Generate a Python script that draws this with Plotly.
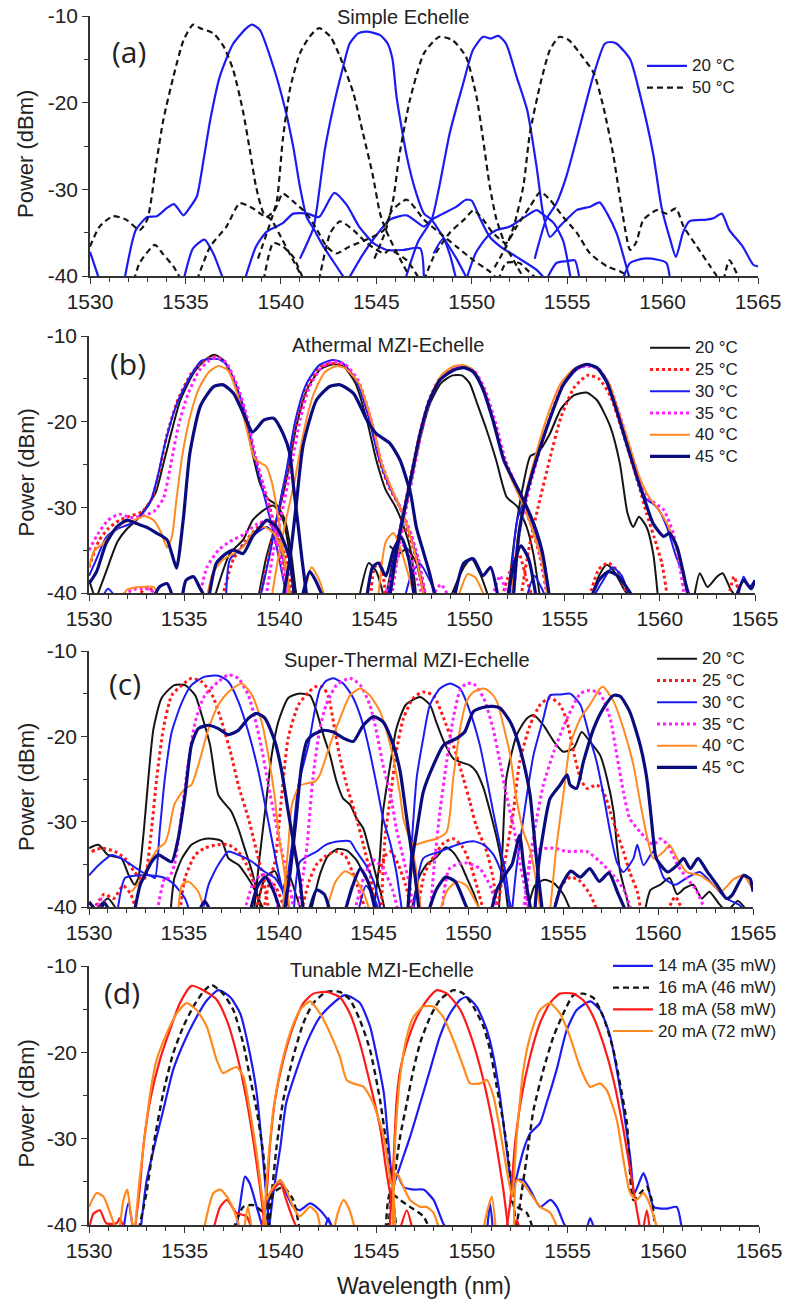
import plotly.graph_objects as go

# ---------------- DATA (wavelength nm, power dBm); each list = segments ----------------
x_ticks = [1530, 1535, 1540, 1545, 1550, 1555, 1560, 1565]
y_ticks = [-10, -20, -30, -40]
y_ticktext = ["-10", "-20", "-30", "-40"]
panel_titles = ["Simple Echelle", "Athermal MZI-Echelle", "Super-Thermal MZI-Echelle", "Tunable MZI-Echelle"]
panel_labels = ["(a)", "(b)", "(c)", "(d)"]
temps_a = ["20 °C", "50 °C"]
temps_bc = ["20 °C", "25 °C", "30 °C", "35 °C", "40 °C", "45 °C"]
currents_d = ["14 mA (35 mW)", "16 mA (46 mW)", "18 mA (58 mW)", "20 mA (72 mW)"]

# ---- panel (a) ----
a_20C = [
    [(1530, -37.2), (1530.5, -40.5)],
    [(1531.8, -40.5), (1532.4, -34.7), (1533.0, -33.2), (1533.5, -33.1), (1534.0, -32.2), (1534.4, -31.7), (1534.9, -33), (1535.2, -32.2), (1535.6, -30.8), (1535.95, -26.6), (1536.3, -22), (1536.8, -17), (1537.5, -13.2), (1538.2, -11.4), (1538.5, -11), (1538.9, -11.6), (1539.6, -15.8), (1540.2, -20.5), (1540.65, -25.1), (1541.0, -29.7), (1541.35, -33.2), (1541.7, -34.5), (1542.2, -36.5), (1542.8, -38.5), (1543.4, -40.5)],
    [(1534.9, -40.5), (1535.4, -36.8), (1536.0, -35.8), (1536.46, -37.4), (1537, -40.5)],
    [(1538.1, -40.5), (1538.7, -36.6), (1539.25, -34.9), (1540.1, -33.9), (1540.65, -32.8), (1541.4, -32.8), (1542.0, -33.2), (1542.8, -30.4), (1543.45, -31.8), (1544.1, -34.3), (1544.85, -36.2), (1545.55, -37), (1546.4, -37), (1547.3, -36.8), (1547.5, -40.5)],
    [(1541.0, -38), (1541.7, -34.5), (1541.9, -32), (1542.3, -25.5), (1542.75, -20.5), (1543.27, -15.8), (1543.6, -13.2), (1544.05, -12), (1544.5, -11.8), (1545.2, -12.2), (1545.6, -13.2), (1545.85, -15), (1546.06, -19.3), (1546.6, -26.2), (1547.1, -30.5), (1547.5, -32.8), (1547.9, -33.5), (1548.5, -35.5), (1549.2, -38), (1549.8, -40.5)],
    [(1546.5, -40.5), (1547.2, -36), (1547.9, -33.5), (1548.3, -29.7), (1548.85, -23.5), (1549.55, -17.8), (1550.07, -13.9), (1550.6, -12.4), (1551.0, -12.6), (1551.4, -12.3), (1551.8, -13.2), (1552.35, -17), (1552.9, -20.8), (1553.4, -27.4), (1553.74, -32.8), (1554.1, -35.5), (1554.6, -34.3), (1555.1, -33.2), (1555.5, -32.4), (1556.2, -32), (1556.7, -31.5), (1557.1, -32.8), (1557.6, -35.1), (1558.1, -38.9), (1558.3, -40.5)],
    [(1553.3, -38), (1553.9, -33.5), (1554.44, -31.6), (1554.96, -28.5), (1555.66, -22.8), (1556.36, -17), (1556.97, -13.2), (1557.3, -13), (1557.6, -13.2), (1558.3, -15), (1558.8, -18.9), (1559.5, -25.8), (1559.94, -32), (1560.4, -35.8), (1560.7, -37.8), (1561.07, -35), (1561.4, -33.7), (1562.3, -33.5), (1562.7, -33.3), (1563.1, -32.8), (1563.5, -34.7), (1564.2, -36.6), (1564.75, -38.7), (1565, -38.9)],
    [(1543.5, -40.5), (1544.3, -37.5), (1545.0, -35.3), (1545.71, -33.5), (1546.6, -33), (1547.5, -34.3), (1547.9, -33.5), (1548.5, -32.8), (1549.2, -32), (1549.7, -31.2), (1550.0, -31.3), (1550.4, -33.2), (1550.95, -35.5), (1551.5, -36.6), (1552.35, -37.8), (1553.4, -39.3), (1553.9, -40.5)],
    [(1549.7, -40.5), (1550.2, -37.4), (1550.8, -35.5), (1551.3, -34.7), (1552, -34.3), (1552.7, -33.3), (1553.4, -32.4), (1553.8, -33), (1554.3, -33.9), (1554.8, -36), (1555.2, -40.5)],
    [(1553.9, -40.5), (1554.44, -38.5), (1554.96, -38.3), (1555.4, -38.2), (1555.66, -40.5)],
    [(1557.9, -40.5), (1558.3, -38.5), (1559, -38), (1559.7, -38.1), (1560.2, -38.5), (1560.4, -40.5)],
    [(1548, -37.4), (1548.5, -35.7), (1548.85, -37.5), (1549.2, -40.5)],
]
a_50C = [
    [(1530, -36.6), (1530.5, -34.3), (1531.2, -33.1), (1531.9, -33.5), (1532.6, -34.7), (1533, -33.5), (1533.5, -26.6), (1533.84, -22), (1534.37, -17), (1534.9, -12.8), (1535.4, -11), (1535.76, -11.4), (1536.46, -12), (1537, -13.5), (1537.5, -16.2), (1538, -20.8), (1538.4, -25.8), (1538.7, -29.7), (1539.1, -32.8), (1539.5, -33.5), (1540.0, -35.5), (1540.6, -38), (1541.2, -40.5)],
    [(1538.8, -38), (1539.5, -33.5), (1539.8, -31.2), (1540.1, -24.3), (1540.5, -18.2), (1541, -14.3), (1541.5, -12.4), (1542, -11.4), (1542.6, -12.4), (1543.1, -14.7), (1543.8, -18.9), (1544.3, -23.5), (1544.8, -28.2), (1545.2, -32.8), (1545.5, -34.7), (1546.0, -37), (1546.6, -39.5)],
    [(1544.9, -38), (1545.5, -34.7), (1545.9, -31), (1546.2, -26.2), (1546.76, -19.7), (1547.5, -14.3), (1548.3, -12.4), (1549, -12.8), (1549.7, -14.7), (1550.25, -19.3), (1550.6, -24.3), (1550.95, -29.7), (1551.3, -33.5), (1551.8, -36.6), (1552.4, -39), (1552.8, -40.5)],
    [(1551.2, -39), (1551.8, -36.6), (1552.2, -34.3), (1552.7, -29.7), (1553.05, -23.5), (1553.6, -17.8), (1554.1, -13.9), (1554.6, -12.4), (1555.1, -12.8), (1555.8, -14.7), (1556.4, -16.6), (1556.9, -20.5), (1557.4, -25.8), (1557.9, -32.8), (1558.3, -37), (1558.6, -36.2), (1559, -33.5), (1559.7, -32.4), (1560.2, -32.8), (1560.7, -32.2), (1561.1, -34.3), (1561.8, -36.6), (1562.5, -38.9), (1563, -40.5)],
    [(1563.2, -40.5), (1563.5, -38.2), (1564.05, -40.5)],
    [(1532.3, -40.5), (1532.6, -38.5), (1533.4, -36.4), (1533.8, -37.4), (1534.37, -38.9), (1534.8, -40.5)],
    [(1535.6, -40.5), (1536.3, -36.6), (1537.15, -34.3), (1537.85, -31.6), (1538.55, -32.2), (1539.25, -33.2), (1539.7, -32.3), (1540.1, -30.5), (1540.65, -31.4), (1541.35, -32.8), (1541.9, -34.7), (1542.4, -36.6), (1542.9, -37.4), (1543.6, -36.6), (1544.5, -35.8), (1545.4, -34.7), (1545.8, -32.5), (1546.6, -31.2), (1547.5, -33.5), (1548.3, -35), (1549.2, -36.6), (1550.1, -38.2), (1550.95, -39.5), (1551.4, -40.5)],
    [(1539.1, -40.5), (1539.6, -36.2), (1540.1, -36.6), (1540.65, -37.8), (1541.2, -40.5)],
    [(1542.0, -40.5), (1542.6, -35), (1543.1, -33.7), (1543.8, -34.7), (1544.5, -36.2), (1545.4, -37.4), (1545.7, -37), (1546.6, -38.2), (1547.3, -40.5)],
    [(1547.5, -40.5), (1548, -37.8), (1548.85, -35), (1549.6, -33.5), (1550.1, -32.4), (1550.6, -33.5), (1551.1, -35), (1551.8, -36.2), (1552.35, -34.3), (1553.05, -32), (1553.6, -30.3), (1554.1, -31.2), (1554.8, -33.2), (1555.5, -35), (1556.2, -37.4), (1557.1, -38.9), (1557.8, -39.5), (1558.6, -40.5)],
    [(1551.4, -40.5), (1551.8, -38.5), (1552.5, -38.5), (1553.0, -39.5), (1553.5, -40.5)],
]

# ---- panel (b) ----
b_20C = [
    [(1530.4, -40.5), (1530.9, -37.5), (1531.5, -34), (1532.0, -32.5), (1532.5, -31.5), (1533.0, -30), (1533.5, -28.3), (1533.9, -25), (1534.3, -21.5), (1534.8, -17.5), (1535.5, -14.3), (1536.1, -12.8), (1536.6, -12.2), (1537.1, -12.9), (1537.7, -15.6), (1538.2, -19.5), (1538.6, -23.8), (1539.0, -27.3), (1539.4, -29), (1539.9, -29.8), (1540.3, -31.5), (1540.6, -35), (1540.9, -40.5)],
    [(1538.9, -40.5), (1539.3, -36), (1539.8, -32), (1540.4, -26.5), (1540.9, -20.5), (1541.45, -16.3), (1542.15, -13.9), (1542.85, -13.3), (1543.4, -13.6), (1544.0, -15.5), (1544.6, -19.8), (1545.1, -24.5), (1545.6, -28), (1546.1, -29.9), (1546.5, -32), (1546.9, -35), (1547.2, -40.5)],
    [(1545.6, -40.5), (1546.0, -36), (1546.4, -32.5), (1546.9, -27.3), (1547.4, -22), (1547.9, -18), (1548.5, -15.5), (1549.1, -14.6), (1549.6, -14.6), (1550.0, -15.5), (1550.4, -17.9), (1550.9, -21), (1551.4, -24.5), (1551.95, -28.8), (1552.5, -29.9), (1553.0, -32.3), (1553.35, -35.4), (1553.7, -40.5)],
    [(1552.0, -40.5), (1552.4, -33), (1552.8, -27.6), (1553.2, -24), (1553.6, -23.6), (1554.2, -21.5), (1554.8, -18.5), (1555.5, -16.9), (1556.15, -16.6), (1556.7, -17.5), (1557.4, -20.6), (1557.9, -24.9), (1558.3, -30.7), (1558.6, -32.3), (1558.9, -31.1), (1559.3, -32.3), (1559.65, -35.4), (1559.9, -40.5)],
    [(1530, -38.5), (1530.3, -40.5)],
    [(1536.6, -40.5), (1537.4, -35.4), (1538.1, -33.8), (1538.6, -31.5), (1539.2, -30.3), (1539.7, -29.8), (1540.2, -31.5), (1540.55, -35.4), (1540.9, -40.5)],
    [(1544.2, -40.5), (1544.7, -36.5), (1545.1, -37.5), (1545.5, -40.5)],
    [(1545.8, -34.5), (1546.3, -35.4), (1546.7, -34.8), (1547.2, -36.5), (1547.6, -40.5)],
    [(1549.0, -40.5), (1549.7, -37), (1550.1, -36), (1550.6, -38), (1551.0, -40.5)],
    [(1556.4, -40.5), (1556.8, -38), (1557.2, -36.7), (1557.6, -37.5), (1558.1, -39.5), (1558.4, -40.5)],
    [(1561.8, -40.5), (1562.1, -37.7), (1562.5, -39.3), (1563, -38.1), (1563.3, -37.7), (1563.7, -39.5), (1564, -40.5)],
]
b_25C = [
    [(1530, -37), (1530.5, -34), (1531.0, -32.5), (1531.6, -31.5), (1532.2, -31), (1532.8, -30.5), (1533.3, -29), (1533.7, -25.8), (1534.1, -21.5), (1534.7, -17.3), (1535.4, -14.3), (1536.1, -12.8), (1536.6, -12.4), (1537.1, -12.9), (1537.7, -15.6), (1538.3, -19.8), (1538.7, -23.8), (1539.1, -27), (1539.5, -30), (1539.9, -33.5), (1540.2, -37), (1540.5, -40.5)],
    [(1539.0, -40.5), (1539.5, -35), (1539.9, -31), (1540.4, -25.8), (1540.9, -19.8), (1541.45, -15.9), (1542.15, -13.6), (1542.85, -13.2), (1543.4, -13.5), (1544.1, -15.3), (1544.8, -20), (1545.3, -24.8), (1545.8, -27.8), (1546.35, -30), (1546.9, -33.2), (1547.3, -36), (1547.7, -40.5)],
    [(1545.8, -40.5), (1546.1, -36), (1546.4, -32), (1546.9, -26.5), (1547.4, -21.2), (1547.9, -17.3), (1548.45, -14.9), (1549.15, -13.8), (1549.7, -13.6), (1550.2, -14.1), (1550.7, -16), (1551.25, -19.8), (1551.8, -24.2), (1552.3, -27), (1552.8, -29.5), (1553.3, -32.5), (1553.7, -35.8), (1554.1, -40.5)],
    [(1552.7, -40.5), (1553.1, -35), (1553.6, -30), (1554.2, -24.5), (1554.8, -19.5), (1555.5, -16), (1556.2, -14.6), (1556.8, -15), (1557.4, -17), (1557.9, -20.2), (1558.4, -23.8), (1558.9, -27.5), (1559.3, -30.7), (1559.7, -33.5), (1560.1, -36.5), (1560.4, -40.5)],
    [(1532.5, -40.5), (1533.1, -39.3), (1533.6, -40.5)],
    [(1537.0, -40.5), (1537.6, -36), (1538.2, -34), (1538.8, -32.5), (1539.3, -31.5), (1539.8, -32.8), (1540.3, -35.5), (1540.7, -40.5)],
    [(1544.8, -40.5), (1545.0, -37), (1545.3, -36.5), (1545.6, -40.5)],
    [(1546.2, -33.5), (1546.6, -32.5), (1547.0, -34.5), (1547.4, -38), (1547.7, -40.5)],
    [(1551.7, -40.5), (1552.2, -37), (1552.6, -35.5), (1553.0, -38.5), (1553.3, -40.5)],
    [(1556.3, -40.5), (1556.8, -37.2), (1557.3, -36.5), (1557.8, -37.5), (1558.3, -40.5)],
    [(1563.6, -40.5), (1563.9, -38.1), (1564.2, -40.5)],
]
b_30C = [
    [(1530, -38), (1530.4, -36), (1530.9, -33.5), (1531.5, -32.5), (1532.1, -32), (1532.7, -31), (1533.2, -29.5), (1533.6, -26.5), (1534.0, -22.5), (1534.6, -18), (1535.3, -14.8), (1535.9, -12.9), (1536.3, -12.7), (1536.8, -12.7), (1537.2, -13.3), (1537.75, -15.9), (1538.3, -19.8), (1538.65, -23.7), (1539.0, -26.8), (1539.35, -29.9), (1539.7, -33), (1540.0, -36.1), (1540.4, -40.5)],
    [(1539.0, -40.5), (1539.5, -35.5), (1539.85, -31.5), (1540.35, -26), (1540.85, -19.8), (1541.4, -15.7), (1542.1, -13.4), (1542.8, -12.8), (1543.3, -13.1), (1544.0, -15), (1544.7, -19.5), (1545.2, -24), (1545.75, -27.4), (1546.3, -29.8), (1546.8, -32.8), (1547.2, -35.6), (1547.6, -40.5)],
    [(1545.7, -40.5), (1546.0, -36.5), (1546.35, -32.3), (1546.9, -26.8), (1547.4, -21.4), (1547.9, -17.5), (1548.45, -15), (1549.15, -13.9), (1549.7, -13.5), (1550.2, -14), (1550.7, -15.9), (1551.25, -19.8), (1551.8, -24.5), (1552.3, -26.8), (1552.8, -29.1), (1553.35, -32.3), (1553.9, -36.1), (1554.2, -40.5)],
    [(1552.1, -40.5), (1552.5, -31.5), (1553.0, -28.4), (1553.5, -24.5), (1554.2, -19.8), (1554.9, -15.9), (1555.6, -14), (1556.15, -13.4), (1556.7, -13.8), (1557.2, -15.5), (1557.7, -18.6), (1558.3, -22.9), (1558.8, -26.4), (1559.3, -29.1), (1559.6, -29.5), (1560.0, -30.5), (1560.4, -32.5), (1560.8, -35.4), (1561.2, -37.7), (1561.6, -40.5)],
    [(1530.7, -40.5), (1531.0, -39.5), (1531.4, -40.5)],
    [(1537.2, -40.5), (1537.4, -36.1), (1538.1, -34.5), (1538.8, -33), (1539.35, -32.3), (1539.85, -33.5), (1540.3, -37), (1540.6, -40.5)],
    [(1546.6, -40.5), (1547.0, -37.5), (1547.4, -36.6), (1547.9, -38.5), (1548.3, -40.5)],
    [(1553.0, -40.5), (1553.4, -38), (1553.8, -39.5), (1554.0, -40.5)],
    [(1556.5, -40.5), (1557.0, -38.6), (1557.5, -37), (1558.0, -38), (1558.4, -40.5)],
    [(1564.1, -40.5), (1564.4, -38.1), (1564.7, -39.3), (1565, -38.5)],
]
b_35C = [
    [(1530, -35), (1530.5, -33), (1531.0, -31.5), (1531.6, -30.8), (1532.2, -31.2), (1532.8, -31), (1533.4, -30.5), (1533.9, -29), (1534.3, -25), (1534.7, -20.5), (1535.2, -16.8), (1535.8, -14), (1536.3, -12.9), (1536.7, -12.5), (1537.2, -13.1), (1537.8, -15.8), (1538.35, -19.8), (1538.7, -23.7), (1539.1, -27), (1539.45, -30), (1539.8, -33.2), (1540.1, -36.5), (1540.4, -40.5)],
    [(1539.3, -40.5), (1539.7, -35), (1540.1, -31), (1540.6, -25.5), (1541.1, -19.7), (1541.6, -15.9), (1542.25, -13.6), (1542.9, -13.0), (1543.45, -13.3), (1544.15, -15.2), (1544.85, -20), (1545.35, -24.6), (1545.85, -27.7), (1546.4, -30.2), (1546.95, -33.3), (1547.3, -36), (1547.7, -40.5)],
    [(1545.9, -40.5), (1546.2, -36), (1546.5, -32), (1547.0, -26.5), (1547.5, -21), (1548.0, -17), (1548.55, -14.8), (1549.25, -13.8), (1549.8, -13.6), (1550.3, -14.2), (1550.8, -16.2), (1551.35, -20), (1551.9, -24.6), (1552.4, -27.2), (1552.9, -29.8), (1553.4, -33), (1553.8, -36.5), (1554.1, -40.5)],
    [(1552.3, -40.5), (1552.6, -33), (1553.0, -29), (1553.5, -24.8), (1554.2, -19.6), (1554.9, -15.7), (1555.6, -13.9), (1556.2, -13.5), (1556.8, -13.9), (1557.3, -15.5), (1557.8, -18.6), (1558.4, -22.9), (1558.9, -26.5), (1559.4, -29), (1559.8, -29.6), (1560.2, -30.3), (1560.7, -33), (1561.05, -37), (1561.3, -40.5)],
    [(1531.5, -40.5), (1532.5, -39.5), (1533.2, -39.6), (1533.7, -40.5)],
    [(1535.8, -40.5), (1536.2, -37), (1536.8, -35), (1537.4, -34), (1538.1, -33.2), (1538.8, -32), (1539.4, -31.6), (1540.0, -33.5), (1540.3, -37), (1540.5, -40.5)],
    [(1545.5, -40.5), (1546.0, -37.5), (1546.5, -34.5), (1546.9, -35.8), (1547.3, -39), (1547.6, -40.5)],
    [(1548.0, -40.5), (1548.5, -39), (1548.9, -40.5)],
    [(1551.2, -40.5), (1551.6, -38), (1552.0, -40.5)],
]
b_40C = [
    [(1530, -37), (1530.3, -35), (1530.7, -34.3), (1531.2, -33), (1531.8, -31.8), (1532.4, -31.5), (1532.9, -31), (1533.4, -31.5), (1533.8, -33), (1534.1, -34.7), (1534.35, -33.5), (1534.6, -29), (1534.9, -24), (1535.3, -19.5), (1535.8, -16), (1536.3, -14.2), (1536.8, -13.5), (1537.3, -14), (1537.8, -16.8), (1538.3, -21), (1538.7, -24.3), (1539.0, -24.8), (1539.3, -25.2), (1539.6, -27), (1539.9, -30.5), (1540.2, -35), (1540.5, -40.5)],
    [(1539.6, -40.5), (1539.9, -36.5), (1540.3, -32), (1540.8, -27), (1541.3, -21), (1541.8, -16.8), (1542.4, -14.2), (1543.0, -13.5), (1543.5, -13.8), (1544.2, -15.6), (1544.9, -20.3), (1545.4, -25), (1545.9, -27.8), (1546.4, -30.3), (1546.9, -33.5), (1547.25, -36.5), (1547.6, -40.5)],
    [(1545.8, -40.5), (1546.15, -36), (1546.5, -31.5), (1547.0, -26), (1547.5, -20.8), (1548.0, -16.8), (1548.55, -14.5), (1549.2, -13.5), (1549.7, -13.4), (1550.2, -14), (1550.7, -16), (1551.25, -20), (1551.8, -24.6), (1552.3, -27.2), (1552.8, -29.6), (1553.3, -32.6), (1553.8, -36.3), (1554.1, -40.5)],
    [(1552.2, -40.5), (1552.5, -34), (1552.9, -29), (1553.4, -24.5), (1554.1, -19.3), (1554.8, -15.5), (1555.5, -13.8), (1556.1, -13.3), (1556.7, -13.7), (1557.3, -15.4), (1557.8, -18.6), (1558.4, -22.8), (1558.9, -26.3), (1559.4, -28.7), (1559.8, -29.9), (1560.2, -31.2), (1560.6, -33), (1560.9, -35), (1561.2, -37.7), (1561.5, -40.5)],
    [(1531.8, -40.5), (1532.0, -39.6), (1532.7, -39.3), (1533.4, -39.3), (1533.7, -40.5)],
    [(1536.2, -40.5), (1536.5, -37.7), (1537.05, -36.1), (1537.6, -35.4), (1538.1, -34.6), (1538.6, -33), (1539.2, -32.3), (1539.7, -33), (1540.2, -35.4), (1540.6, -40.5)],
    [(1541.3, -40.5), (1541.7, -37), (1542.1, -38.5), (1542.4, -40.5)],
    [(1545.2, -40.5), (1545.6, -34), (1546.0, -33), (1546.4, -35), (1546.8, -38), (1547.1, -40.5)],
    [(1549.4, -40.5), (1549.9, -37.8), (1550.3, -38.2), (1550.8, -40.5)],
]
b_45C = [
    [(1530, -38.9), (1530.4, -37.5), (1530.9, -34.2), (1531.45, -32.3), (1532, -31.5), (1532.5, -31.9), (1533, -32.3), (1533.55, -33), (1534.1, -33.8), (1534.35, -35.4), (1534.6, -37.1), (1534.95, -31.5), (1535.3, -23.7), (1535.85, -18.2), (1536.55, -15.9), (1537.05, -15.7), (1537.6, -16.7), (1538.1, -19), (1538.6, -21.2), (1539.2, -19.8), (1539.7, -19.6), (1540.2, -21.4), (1540.55, -23.7), (1540.75, -27.6), (1541, -32.3), (1541.2, -36.2), (1541.45, -40.5)],
    [(1540.2, -40.5), (1540.55, -36.1), (1540.9, -29.5), (1541.25, -22.8), (1541.95, -17.5), (1542.65, -15.9), (1543.2, -15.7), (1543.9, -16.7), (1544.6, -19.8), (1545.1, -21.4), (1545.8, -22.5), (1546.35, -24.5), (1546.9, -28.4), (1547.2, -32.3), (1547.6, -35.4), (1547.9, -37.7), (1548.2, -40.5)],
    [(1545.8, -40.5), (1546.1, -36), (1546.4, -32.3), (1546.9, -26.8), (1547.4, -21.4), (1547.9, -17.5), (1548.45, -15.1), (1549.15, -14), (1549.7, -13.7), (1550.2, -14.2), (1550.7, -16.2), (1551.25, -20), (1551.8, -24.5), (1552.3, -26.8), (1552.8, -29), (1553.3, -31.5), (1553.8, -35), (1554.2, -40.5)],
    [(1552.3, -40.5), (1552.6, -33), (1553.0, -28.4), (1553.5, -24.5), (1554.2, -19.8), (1554.9, -15.8), (1555.6, -13.8), (1556.15, -13.3), (1556.7, -13.7), (1557.2, -15.3), (1557.7, -18.5), (1558.3, -22.9), (1558.8, -26.5), (1559.3, -29.8), (1559.65, -31.9), (1560.2, -33.4), (1560.5, -33), (1560.9, -34.6), (1561.2, -37.3), (1561.5, -40.5)],
    [(1533.4, -40.5), (1533.7, -39.3), (1534.1, -38.9), (1534.4, -40.5)],
    [(1534.9, -40.5), (1535.1, -38.5), (1535.5, -38.1), (1535.8, -39.3), (1536.1, -40.5)],
    [(1536.3, -40.5), (1536.7, -36.5), (1537.2, -35.4), (1537.6, -35), (1538.1, -35.4), (1538.6, -33.4), (1539, -32.3), (1539.35, -31.5), (1539.85, -32.3), (1540.2, -33.8), (1540.55, -36.1), (1540.8, -40.5)],
    [(1541.2, -40.5), (1541.6, -37.5), (1541.9, -38.5), (1542.3, -40.5)],
    [(1544.6, -40.5), (1544.9, -37), (1545.2, -36.5), (1545.6, -38), (1546.0, -35), (1546.4, -33.5), (1546.8, -36), (1547.1, -40.5)],
    [(1549.2, -40.5), (1549.7, -36.5), (1550.2, -36.0), (1550.7, -38), (1551.1, -37), (1551.5, -40.5)],
    [(1552.0, -40.5), (1552.3, -37), (1552.7, -34.5), (1553.1, -36), (1553.5, -40.5)],
    [(1556.4, -40.5), (1556.8, -38.5), (1557.3, -37.5), (1557.8, -38), (1558.3, -39.5), (1558.6, -40.5)],
    [(1564.0, -40.5), (1564.4, -38.5), (1564.8, -39.5), (1565, -38.5)],
]

# ---- panel (c) ----
c_20C = [
    [(1530, -33.1), (1530.5, -32.7), (1531, -33.9), (1531.7, -34.3), (1532.1, -36.3), (1532.4, -37.4), (1532.6, -36.6), (1532.9, -30.8), (1533.13, -24.9), (1533.4, -19.1), (1533.83, -15.5), (1534.5, -14), (1535.06, -14), (1535.6, -15.2), (1535.94, -17.5), (1536.38, -21), (1536.82, -26.9), (1537.2, -28), (1537.5, -28.8), (1537.87, -30.8), (1538.2, -33.1), (1538.6, -35.9), (1538.93, -39), (1539.1, -40.5)],
    [(1534.3, -40.5), (1534.5, -36.6), (1534.9, -34.3), (1535.4, -32.7), (1535.94, -32.1), (1536.5, -32), (1537, -32.3), (1537.35, -34.3), (1537.9, -35.1), (1538.6, -37.4), (1539.1, -39.8), (1539.3, -40.5)],
    [(1538.7, -40.5), (1538.95, -35), (1539.28, -28.8), (1539.63, -22.2), (1539.98, -18.3), (1540.5, -15.5), (1541.04, -15), (1541.65, -15.2), (1542, -17.1), (1542.35, -19.8), (1542.7, -22.2), (1543.05, -25.3), (1543.4, -27.3), (1543.76, -28), (1544.1, -29.6), (1544.46, -30.8), (1544.8, -33.5), (1545.16, -36.6), (1545.5, -39.4), (1545.6, -40.5)],
    [(1545.0, -40.5), (1545.3, -35), (1545.5, -28.8), (1545.9, -23), (1546.2, -19.1), (1546.7, -16.3), (1547.45, -15.4), (1547.97, -16.3), (1548.3, -18.3), (1548.7, -20.6), (1549.2, -22.6), (1549.56, -23), (1550.08, -23.4), (1550.4, -24.1), (1550.8, -26.1), (1551.14, -28.8), (1551.5, -32), (1551.84, -35.9), (1552.1, -40.5)],
    [(1551.6, -40.5), (1551.8, -33), (1552, -24.9), (1552.55, -19.8), (1553.08, -17.9), (1553.43, -17.5), (1553.95, -18.7), (1554.5, -20.6), (1555, -21.8), (1555.54, -21.4), (1555.97, -19.5), (1556.4, -20.6), (1556.94, -22.2), (1557.3, -24.9), (1557.65, -28.8), (1557.82, -32.7), (1558, -35.9), (1558.35, -39), (1558.5, -40.5)],
    [(1541.7, -40.5), (1542.2, -36), (1542.6, -34), (1543.1, -33.2), (1543.6, -33.4), (1544.1, -34.5), (1544.5, -36.2), (1544.9, -38), (1545.2, -40.5)],
    [(1547.0, -40.5), (1547.4, -36.5), (1547.8, -35), (1548.3, -34.2), (1548.8, -33), (1549.2, -33.6), (1549.6, -35), (1549.9, -36.5), (1550.3, -38.5), (1550.6, -40.5)],
    [(1553.1, -40.5), (1553.5, -37.5), (1554, -36.8), (1554.5, -37.2), (1555, -38.5), (1555.4, -40.5)],
    [(1538.8, -40.5), (1539.3, -36.5), (1539.8, -35.8), (1540.2, -38), (1540.5, -36), (1540.9, -38.5), (1541.2, -40.5)],
    [(1559.3, -40.5), (1559.6, -38), (1560.1, -37.4), (1560.6, -36.6), (1561, -38.5), (1561.4, -37.8), (1561.86, -37.4), (1562.3, -39), (1562.7, -38.2), (1563.2, -39.6), (1563.6, -40.5), (1564.2, -39.3), (1564.7, -40.5)],
    [(1530.3, -40.5), (1531.0, -39), (1531.5, -40.5)],
]
c_25C = [
    [(1530.14, -33.5), (1530.67, -33.1), (1531.37, -33.5), (1531.9, -34.3), (1532.4, -35.9), (1532.8, -36.8), (1532.95, -36.6), (1533.3, -30.8), (1533.57, -24.9), (1533.92, -19.1), (1534.36, -15.2), (1534.9, -14), (1535.4, -13.2), (1535.94, -13.6), (1536.5, -15.2), (1537, -18.3), (1537.5, -22.2), (1537.87, -25.7), (1538.4, -29.6), (1538.75, -32.7), (1539.1, -35.9), (1539.37, -39), (1539.5, -40.5)],
    [(1534.8, -40.5), (1535.06, -36.6), (1535.6, -33.9), (1536.1, -33.1), (1536.8, -32.7), (1537.35, -32.7), (1537.87, -33.5), (1538.3, -35), (1538.6, -36.6), (1538.9, -39), (1539.0, -40.5)],
    [(1539.2, -40.5), (1539.5, -37), (1539.8, -34.7), (1540.16, -26.9), (1540.5, -20.2), (1541.04, -16.3), (1541.6, -14.8), (1541.9, -14.2), (1542.3, -14.2), (1542.6, -15.2), (1542.9, -18.5), (1543.2, -22.2), (1543.58, -25.7), (1544.1, -29.6), (1544.46, -32.7), (1544.8, -35.9), (1545.1, -40.5)],
    [(1545.4, -40.5), (1545.6, -32), (1545.9, -26.9), (1546.2, -21.8), (1546.57, -17.9), (1547.1, -15.5), (1547.6, -14.8), (1548.15, -15.2), (1548.7, -17.9), (1549.2, -21), (1549.73, -24.9), (1550.08, -27.7), (1550.4, -30.4), (1550.96, -33.5), (1551.3, -36.6), (1551.5, -40.5)],
    [(1551.5, -40.5), (1551.9, -35), (1552.37, -28.8), (1552.7, -23), (1553.25, -18.7), (1553.78, -16.3), (1554.3, -15.5), (1554.83, -16.3), (1555.2, -18.3), (1555.54, -21.8), (1555.9, -24.9), (1556.24, -26.1), (1556.76, -25.7), (1557.12, -26.5), (1557.47, -28.8), (1557.82, -31.2), (1558.17, -33.5), (1558.5, -35.9), (1558.9, -38.2), (1559.1, -40.5)],
    [(1541.2, -40.5), (1541.6, -37), (1542.0, -35), (1542.5, -34), (1543.0, -33.5), (1543.5, -34), (1543.9, -36), (1544.3, -38.5), (1544.6, -40.5)],
    [(1547.3, -40.5), (1547.7, -36), (1548.2, -34), (1548.7, -32.5), (1549.2, -32), (1549.7, -33), (1550.1, -35), (1550.5, -38), (1550.8, -40.5)],
    [(1545.3, -36), (1545.6, -34), (1545.9, -33.5), (1546.3, -35), (1546.7, -37.5), (1547.0, -40.5)],
    [(1554.5, -40.5), (1554.9, -37.5), (1555.4, -36.5), (1555.9, -37), (1556.4, -38.5), (1556.8, -40.5)],
    [(1538.8, -40.5), (1539.3, -36.8), (1539.8, -37.5), (1540.2, -39.5), (1540.4, -40.5)],
    [(1530.2, -40.5), (1530.8, -38.5), (1531.3, -39), (1531.8, -37.5), (1532.2, -38.5), (1532.5, -40.5)],
    [(1560.5, -40.5), (1560.9, -38.8), (1561.3, -40.5)],
]
c_30C = [
    [(1530, -36.3), (1530.5, -35.1), (1531.2, -33.9), (1531.7, -34.3), (1532.25, -35.1), (1532.8, -35.9), (1533.3, -36.4), (1533.48, -36.6), (1533.74, -30.8), (1534, -24.9), (1534.36, -19.5), (1534.9, -16), (1535.4, -14), (1536.1, -13), (1536.82, -12.9), (1537.35, -13.6), (1537.87, -15.9), (1538.4, -19.5), (1538.93, -24.1), (1539.28, -28), (1539.63, -32), (1539.98, -35.9), (1540.3, -39), (1540.4, -40.5)],
    [(1531.5, -40.5), (1531.9, -36.6), (1532.6, -36.3), (1533.3, -36.3), (1534, -36.6), (1534.5, -37.4), (1535.06, -39), (1535.3, -40.5)],
    [(1536.0, -40.5), (1536.3, -37.4), (1536.8, -35.1), (1537.35, -33.5), (1537.87, -33.9), (1538.6, -34.7), (1539.28, -35.9), (1539.8, -36.6), (1540.3, -38.5), (1540.6, -40.5)],
    [(1540.3, -40.5), (1540.5, -36), (1540.7, -32.7), (1541.04, -25.7), (1541.57, -21), (1541.9, -17), (1542.17, -14.5), (1542.5, -13.5), (1542.88, -13.2), (1543.4, -13.8), (1543.93, -15.5), (1544.46, -18.7), (1544.8, -21.8), (1545.16, -25.7), (1545.5, -29.6), (1545.9, -32.7), (1546.2, -35.9), (1546.5, -40.5)],
    [(1540.8, -40.5), (1541.12, -34.7), (1542, -33.5), (1542.5, -32.7), (1543.2, -32.3), (1543.76, -32.3), (1544.1, -33.5), (1544.6, -35.1), (1545.0, -37), (1545.4, -40.5)],
    [(1546.8, -40.5), (1547.0, -33), (1547.27, -24.9), (1547.62, -20.2), (1547.97, -16.3), (1548.5, -14.4), (1549.03, -13.8), (1549.56, -14.4), (1550.08, -17.1), (1550.6, -21), (1550.96, -24.9), (1551.3, -28.8), (1551.66, -32.7), (1552, -36.6), (1552.2, -40.5)],
    [(1547.1, -40.5), (1547.62, -34.3), (1548.5, -33.5), (1549.4, -32.7), (1550.26, -32.3), (1550.8, -32.7), (1551.3, -33.8), (1551.66, -35.5), (1552.0, -38), (1552.3, -40.5)],
    [(1552.3, -40.5), (1552.5, -36), (1552.7, -32.7), (1553.08, -26.9), (1553.43, -22.2), (1553.95, -17.9), (1554.3, -15.2), (1554.83, -15.1), (1555.36, -15), (1555.9, -16.3), (1556.4, -20.2), (1556.76, -23), (1557.12, -26.9), (1557.47, -31.2), (1557.82, -34.7), (1558.17, -35.9), (1558.7, -34.3), (1558.9, -32.7), (1559.23, -35.1), (1559.75, -33.5), (1560.3, -36.6), (1560.9, -37.4), (1561.5, -36.6), (1562.2, -35.9), (1562.9, -37.4), (1563.6, -39), (1564.3, -39.8), (1564.6, -40.5)],
    [(1544.2, -40.5), (1544.6, -37.5), (1545.0, -38.8), (1545.3, -40.5)],
]
c_35C = [
    [(1533.6, -40.5), (1534.0, -36.6), (1534.2, -36.6), (1534.5, -35.1), (1534.9, -28.8), (1535.24, -23), (1535.6, -18.3), (1536.1, -15.2), (1536.82, -13.6), (1537.35, -12.8), (1537.87, -13.2), (1538.4, -15.2), (1538.75, -17.9), (1539.1, -21.4), (1539.45, -25.7), (1539.8, -29.6), (1540.16, -33.5), (1540.5, -36.6), (1540.8, -40.5)],
    [(1541.0, -40.5), (1541.3, -36), (1541.5, -32.7), (1541.8, -24.9), (1542.17, -19.1), (1542.5, -16.3), (1543.05, -14), (1543.76, -13.2), (1544.3, -14), (1544.8, -16.3), (1545.16, -19.5), (1545.5, -23.4), (1545.9, -26.9), (1546.2, -30.8), (1546.57, -34.3), (1546.9, -37.4), (1547.1, -40.5)],
    [(1548.0, -40.5), (1548.2, -35), (1548.5, -28.8), (1548.85, -23), (1549.2, -17.9), (1549.56, -14.6), (1549.9, -13.8), (1550.3, -13.9), (1550.8, -15.5), (1551.3, -19.1), (1551.66, -23), (1552, -26.9), (1552.4, -30.8), (1552.7, -34.7), (1553.0, -38), (1553.2, -40.5)],
    [(1552.9, -40.5), (1553.2, -35), (1553.6, -29.6), (1553.95, -25.7), (1554.5, -21.8), (1555.2, -17.9), (1555.9, -15), (1556.4, -14.6), (1556.94, -15), (1557.47, -17.9), (1557.82, -22.2), (1558.17, -26.5), (1558.5, -29.6), (1559.05, -31.2), (1559.75, -32.7), (1560.1, -32), (1560.5, -32.7), (1561, -35), (1561.5, -36.6), (1562, -38), (1562.5, -40.5)],
    [(1553.0, -40.5), (1553.43, -33.5), (1554.5, -33.1), (1555.2, -33.5), (1556.24, -33.5), (1556.94, -34.7), (1557.65, -36.3), (1558.2, -38), (1558.6, -40.5)],
    [(1538.2, -40.5), (1538.7, -37), (1539.2, -36.2), (1539.7, -37.5), (1540.0, -40.5)],
    [(1544.0, -40.5), (1544.5, -36.5), (1545.0, -34.5), (1545.5, -35.5), (1546.0, -38), (1546.3, -40.5)],
    [(1548.6, -40.5), (1549.0, -35.5), (1549.8, -34.8), (1550.6, -35.5), (1551.2, -37.8), (1551.5, -40.5)],
    [(1530.3, -40.5), (1530.7, -39), (1531.0, -40.5)],
]
c_40C = [
    [(1532.25, -38.2), (1532.8, -36.6), (1533.3, -34.3), (1533.66, -33.1), (1534.0, -32.5), (1534.2, -31.2), (1534.5, -28), (1535.06, -26.1), (1535.4, -25.7), (1535.76, -23.4), (1536.3, -19.1), (1536.82, -16.3), (1537.35, -14.8), (1538.05, -13.8), (1538.6, -15.2), (1539.1, -18.3), (1539.45, -22.2), (1539.8, -27.3), (1539.98, -31.2), (1540.3, -35.9), (1540.6, -40.5)],
    [(1534.7, -40.5), (1534.9, -37.4), (1535.24, -37), (1535.76, -38.2), (1536.1, -40.5)],
    [(1540.2, -40.5), (1540.5, -33), (1540.7, -28), (1541.1, -25.8), (1541.5, -25.5), (1541.9, -25.3), (1542.17, -24.5), (1542.7, -21), (1543.23, -17.9), (1543.76, -15.2), (1544.3, -14.4), (1544.8, -15.2), (1545.34, -17.1), (1545.7, -19.5), (1546.04, -22.6), (1546.4, -26.9), (1546.57, -29.6), (1546.9, -32), (1547.1, -32.7), (1547.8, -32.3), (1548.3, -32), (1548.85, -31.2), (1549.2, -24.9), (1549.56, -19.1), (1549.9, -15.9), (1550.26, -14.8), (1550.8, -14.4), (1551.14, -14.8), (1551.5, -15.9), (1551.84, -18.7), (1552.2, -22.2), (1552.5, -26.9), (1552.9, -31.2), (1553.2, -33), (1553.5, -36), (1553.8, -40.5)],
    [(1546.9, -32), (1547.2, -35), (1547.5, -40.5)],
    [(1554.3, -40.5), (1554.5, -36), (1554.65, -32.7), (1555, -26.9), (1555.36, -21), (1555.9, -17.9), (1556.4, -16.3), (1556.94, -14.4), (1557.1, -14.2), (1557.65, -15.9), (1558.17, -19.1), (1558.7, -23.4), (1559.05, -27.7), (1559.4, -31.6), (1559.75, -34.3), (1560.3, -33.5), (1560.6, -32.7), (1561, -34.3), (1561.5, -35.9), (1562.2, -36.3), (1562.9, -37.4), (1563.3, -38.2), (1564, -36.7), (1564.5, -36.3), (1565, -38)],
    [(1542.5, -40.5), (1543.0, -37), (1543.5, -35.8), (1544.0, -36.5), (1544.5, -38.5), (1544.8, -40.5)],
    [(1548.5, -40.5), (1548.9, -38), (1549.4, -37), (1549.9, -37.5), (1550.4, -39.5), (1550.7, -40.5)],
]
c_45C = [
    [(1530, -39.4), (1530.4, -40.5)],
    [(1532.4, -40.5), (1532.7, -37.4), (1533.0, -36), (1533.3, -34.7), (1533.66, -33.9), (1534, -34.3), (1534.36, -34.7), (1534.7, -32), (1535.06, -26.9), (1535.4, -21), (1535.76, -19.1), (1536.3, -18.7), (1536.82, -19.1), (1537.35, -19.8), (1537.87, -19.3), (1538.4, -17.9), (1538.84, -17.3), (1539.28, -17.9), (1539.8, -20.6), (1540.16, -24.1), (1540.5, -28.8), (1540.86, -33.5), (1541.1, -36.6), (1541.3, -40.5)],
    [(1540.3, -40.5), (1540.6, -36), (1540.9, -30), (1541.2, -23.5), (1541.5, -20.5), (1541.82, -19.8), (1542.35, -19.3), (1542.88, -19.5), (1543.4, -20.2), (1543.93, -20.6), (1544.46, -18.7), (1545, -17.7), (1545.5, -18.3), (1546.04, -21), (1546.4, -24.1), (1546.7, -28.8), (1547, -33.5), (1547.2, -36.6), (1547.4, -40.5)],
    [(1546.8, -40.5), (1547.0, -35), (1547.27, -31.2), (1547.62, -26.5), (1548.15, -23.4), (1548.7, -21), (1549.4, -20.2), (1549.8, -19.5), (1550.26, -17.1), (1550.8, -16.6), (1551.3, -16.5), (1551.67, -16.7), (1552.2, -18.3), (1552.55, -20.2), (1552.9, -23), (1553.25, -26.9), (1553.43, -30.8), (1553.6, -34.7), (1553.78, -38.2), (1553.9, -40.5)],
    [(1553.5, -40.5), (1553.7, -35), (1553.95, -31.2), (1554.3, -27.3), (1554.83, -25.7), (1555.2, -24.5), (1555.36, -25.7), (1555.7, -26.1), (1556.06, -23), (1556.6, -19.1), (1557.12, -16.7), (1557.65, -15.2), (1558.0, -15.3), (1558.5, -17.1), (1559.05, -21), (1559.4, -24.9), (1559.6, -28.8), (1559.75, -32), (1559.9, -34.3), (1560.5, -35.9), (1561, -35.1), (1561.34, -34.3), (1561.7, -35.5), (1562.1, -34.3), (1562.6, -35.9), (1563.1, -37.4), (1563.6, -39), (1563.9, -38.6), (1564.5, -36.3), (1564.85, -36.7), (1565, -38.2)],
    [(1530.6, -40.5), (1530.8, -39.5), (1531.1, -40.5)],
    [(1535.8, -40.5), (1536.1, -39.3), (1536.4, -40.5)],
    [(1538.5, -40.5), (1538.9, -37.5), (1539.3, -36.5), (1539.7, -38), (1540.1, -40.5)],
    [(1541.6, -40.5), (1542.0, -38), (1542.4, -38.5), (1542.7, -40.5)],
    [(1543.5, -40.5), (1543.9, -37.5), (1544.3, -35.5), (1544.7, -37), (1545.1, -40.5)],
    [(1547.9, -40.5), (1548.3, -38), (1548.8, -36.5), (1549.3, -37), (1549.8, -39.5), (1550, -40.5)],
    [(1551.2, -40.5), (1551.5, -38), (1552, -36), (1552.3, -35), (1552.7, -31.6), (1552.9, -35), (1553.1, -38), (1553.3, -40.5)],
    [(1554.5, -40.5), (1554.9, -37.5), (1555.4, -35.8), (1555.9, -36.5), (1556.4, -35.5), (1556.9, -37), (1557.4, -36), (1557.9, -38.5), (1558.3, -40.5)],
]

# ---- panel (d) ----
d_14mA = [
    [(1531.8, -40.5), (1532.05, -37.5), (1532.3, -40.5)],
    [(1532.7, -40.5), (1533.0, -35), (1533.4, -31), (1533.9, -26.5), (1534.4, -22), (1534.93, -19), (1535.45, -16.6), (1536.15, -14), (1536.76, -12.8), (1537.37, -13.6), (1537.9, -15.5), (1538.4, -20.1), (1538.76, -24.7), (1539.1, -32.5), (1539.28, -37.1), (1539.45, -40.5)],
    [(1537.7, -40.5), (1537.9, -37.5), (1538.15, -34.4), (1538.4, -35.2), (1538.76, -37.9), (1539.1, -40.5)],
    [(1539.4, -40.5), (1539.63, -36.3), (1540, -30.9), (1540.3, -25.9), (1540.85, -22), (1541.37, -18.9), (1542.07, -15.9), (1542.76, -14.3), (1543.3, -13.4), (1543.6, -13.5), (1544.16, -14.3), (1544.68, -17), (1545, -20.1), (1545.4, -24.7), (1545.64, -30.5), (1545.85, -35.5), (1546.0, -40.5)],
    [(1539.3, -40.5), (1539.45, -36.6), (1540, -34.8), (1540.3, -36.3), (1540.67, -37.9), (1541, -38.3), (1541.55, -37.5), (1542.07, -38.3), (1542.6, -39.8), (1542.8, -40.5)],
    [(1545.7, -37.5), (1545.9, -35.5), (1546.25, -33.2), (1546.77, -29.8), (1547.3, -25.9), (1547.82, -22), (1548.34, -18.1), (1548.86, -15.5), (1549.4, -13.9), (1549.73, -13.6), (1550.25, -14.7), (1550.78, -17.4), (1551.13, -20.5), (1551.47, -25.1), (1551.82, -31.3), (1552, -34.4), (1552.17, -35.9), (1552.34, -34.4), (1552.7, -31.3), (1553.04, -29.4), (1553.56, -28.2), (1553.9, -25.9), (1554.43, -22), (1554.96, -17.4), (1555.48, -15.1), (1556.18, -14.1), (1556.7, -15.1), (1557.22, -18.1), (1557.57, -22), (1557.92, -26.6), (1558.27, -32.1), (1558.5, -36.3), (1558.96, -34), (1559.15, -35), (1559.5, -37.9), (1560.2, -38.1), (1560.7, -37.9), (1560.97, -40.5)],
    [(1545.9, -36), (1546.08, -34), (1546.43, -35.6), (1546.95, -35.9), (1547.47, -35.9), (1548, -37.1), (1548.5, -39.8), (1548.7, -40.5)],
    [(1552.17, -34.8), (1552.7, -34.8), (1553.04, -35.9), (1553.57, -37.9), (1554.1, -37.1), (1554.44, -37.9), (1554.8, -39.8), (1555.0, -40.5)],
    [(1550.8, -40.5), (1550.95, -37.5), (1551.1, -40.5)],
    [(1556.0, -40.5), (1556.18, -39.2), (1556.4, -40.5)],
    [(1542.3, -40.5), (1542.5, -39.2), (1542.7, -40.5)],
]
d_16mA = [
    [(1532.6, -40.5), (1533, -36.3), (1533.36, -30.9), (1533.88, -24.7), (1534.4, -20.1), (1534.93, -17), (1535.45, -14.7), (1535.97, -13), (1536.4, -12.2), (1537, -13.2), (1537.54, -15.1), (1538.06, -19), (1538.4, -22.8), (1538.76, -26.7), (1539.1, -31.7), (1539.28, -36.3), (1539.4, -40.5)],
    [(1537.54, -40.5), (1538.06, -37.9), (1538.58, -37.7), (1539.1, -38.6), (1539.3, -40.5)],
    [(1539.2, -40.5), (1539.54, -36.3), (1539.8, -30.9), (1540.15, -25.5), (1540.67, -20.5), (1541.2, -16.6), (1541.72, -14.3), (1542.4, -13), (1543.1, -13), (1543.63, -13.9), (1544.16, -16.3), (1544.68, -19.7), (1545.2, -25.5), (1545.55, -30.9), (1545.8, -35.6), (1546.07, -40.5)],
    [(1539.4, -40.5), (1539.63, -36.3), (1540.15, -35.6), (1540.67, -37.1), (1541.0, -40.5)],
    [(1545.6, -40.5), (1545.9, -35.5), (1546.25, -29.8), (1546.6, -25.9), (1546.95, -22), (1547.3, -18.9), (1547.82, -15.9), (1548.34, -13.9), (1549.04, -12.8), (1549.56, -13.2), (1550.08, -14.7), (1550.6, -17), (1550.95, -19.7), (1551.3, -24), (1551.65, -28.2), (1551.9, -32.1), (1552.17, -37.5), (1552.34, -40.5)],
    [(1545.5, -40.5), (1545.73, -36.3), (1546.25, -37.1), (1546.77, -37.9), (1547.47, -39), (1547.8, -40.5)],
    [(1552.3, -40.5), (1552.52, -37.5), (1552.87, -32.1), (1553.22, -26.7), (1553.74, -22), (1554.26, -18.2), (1554.78, -15.5), (1555.3, -13.4), (1555.83, -13.2), (1556.35, -13.7), (1556.87, -15.9), (1557.39, -19.7), (1557.74, -23.6), (1558.1, -28.2), (1558.44, -37.1), (1558.8, -36.3), (1559.14, -35.6), (1559.4, -37.1), (1559.57, -40.5)],
    [(1552, -37.1), (1552.35, -37.9), (1552.87, -38.6), (1553.2, -40.5)],
]
d_18mA = [
    [(1530.0, -40.5), (1530.23, -38.7), (1530.57, -38.3), (1530.9, -39.8), (1531.45, -39.8), (1531.6, -39.2), (1531.85, -40.5)],
    [(1532.4, -40.5), (1532.66, -35.6), (1532.84, -30.9), (1533.2, -25.5), (1533.7, -20.9), (1534.23, -17.4), (1534.75, -14.3), (1535.36, -12.3), (1535.97, -12.8), (1536.67, -13.9), (1537.2, -16.3), (1537.71, -20.1), (1538.23, -25.5), (1538.58, -30.2), (1538.93, -35.6), (1539.2, -40.5)],
    [(1536.5, -40.5), (1536.85, -37.9), (1537.2, -37.1), (1537.7, -38.6), (1538.23, -39), (1538.5, -40.5)],
    [(1539.05, -40.5), (1539.28, -36.3), (1539.45, -30.9), (1539.72, -25.5), (1540.15, -20.9), (1540.67, -17), (1541.2, -14.3), (1541.72, -13.2), (1542.4, -13), (1543.1, -13.6), (1543.63, -15.5), (1544.16, -19), (1544.68, -23.6), (1545.2, -28.6), (1545.55, -34), (1545.9, -38.6), (1546.0, -40.5)],
    [(1539.45, -36.3), (1540, -35.2), (1540.3, -37.1), (1540.67, -39.4), (1540.9, -40.5)],
    [(1545.7, -40.5), (1545.9, -33), (1546.07, -25.5), (1546.25, -22.1), (1546.6, -19), (1547.12, -15.9), (1547.64, -14), (1548.17, -12.8), (1548.7, -13.2), (1549.4, -15.1), (1549.9, -17.8), (1550.43, -21.7), (1550.95, -26.7), (1551.3, -31), (1551.65, -36), (1551.82, -39), (1551.9, -40.5)],
    [(1546.25, -40.5), (1546.6, -38.3), (1546.9, -40.5)],
    [(1551.8, -40.5), (1552, -37.5), (1552.26, -30.5), (1552.6, -25.1), (1553.04, -20.5), (1553.56, -16.6), (1554.08, -14.3), (1554.6, -13.2), (1555.3, -13.2), (1555.83, -14), (1556.35, -15.9), (1556.87, -19), (1557.4, -23.2), (1557.92, -29), (1558.27, -33.6), (1558.62, -38.3), (1558.8, -40.5)],
    [(1552.2, -40.5), (1552.35, -39.4), (1552.5, -40.5)],
    [(1558.95, -40.5), (1559.14, -38.3), (1559.3, -40.5)],
]
d_20mA = [
    [(1530, -37.9), (1530.4, -36.3), (1530.75, -36.7), (1531.1, -38.6), (1531.4, -40.5)],
    [(1531.6, -40.5), (1531.8, -37.1), (1532, -35.9), (1532.14, -37.9), (1532.3, -40.5)],
    [(1532.4, -40.5), (1532.66, -34.4), (1532.93, -29.4), (1533.2, -24.7), (1533.53, -20.9), (1534.06, -17.8), (1534.58, -15.5), (1535.1, -14.3), (1535.62, -15.1), (1536.15, -17), (1536.67, -20.9), (1537, -22.4), (1537.37, -22), (1537.71, -21.7), (1538.06, -22.8), (1538.4, -26.7), (1538.76, -31.7), (1539.02, -36.3), (1539.28, -40.5)],
    [(1536.0, -40.5), (1536.5, -36.3), (1536.85, -35.9), (1537.2, -36.7), (1537.6, -38.5), (1537.9, -40.5)],
    [(1538.1, -40.5), (1538.3, -37.9), (1538.5, -40.5)],
    [(1539.1, -40.5), (1539.37, -32.5), (1539.63, -26.7), (1540, -22), (1540.5, -17.8), (1541.02, -15.1), (1541.55, -14.1), (1542.07, -15.5), (1542.6, -17.8), (1543.1, -20.5), (1543.46, -23.2), (1543.8, -23.6), (1544.34, -24), (1544.85, -25.9), (1545.4, -29.8), (1545.72, -34.4), (1545.9, -36.3), (1546.0, -40.5)],
    [(1539.28, -37.1), (1539.63, -35.6), (1540, -34.8), (1540.3, -35.9), (1540.67, -37.9), (1541, -39), (1541.55, -37.9), (1541.9, -38.6), (1542.1, -40.5)],
    [(1542.8, -40.5), (1543.0, -38.6), (1543.3, -37.1), (1543.6, -38.2), (1543.9, -40.5)],
    [(1545.85, -40.5), (1546.0, -30), (1546.25, -22.8), (1546.6, -18.2), (1546.95, -15.9), (1547.47, -14.7), (1548, -14.7), (1548.5, -15.9), (1549.04, -18.6), (1549.56, -21.7), (1549.9, -23.6), (1550.43, -23.6), (1550.78, -23.2), (1551.13, -25.1), (1551.47, -29), (1551.82, -33.6), (1552.1, -36.7), (1552.34, -29.8), (1552.69, -22), (1553.04, -18.2), (1553.56, -15.1), (1554.08, -14.3), (1554.6, -15.5), (1555.13, -18.2), (1555.65, -21.7), (1556.18, -24), (1556.7, -23.6), (1557.05, -24.4), (1557.57, -27.8), (1557.92, -32.5), (1558.27, -36.3), (1558.6, -37.1), (1558.96, -36.3), (1559.2, -37.1), (1559.5, -39), (1559.7, -40.5)],
    [(1545.9, -36), (1546.08, -34), (1546.43, -35.6), (1546.77, -37.1), (1547.3, -37.9), (1547.64, -37.9), (1548, -38.6), (1548.3, -40.5)],
    [(1550.6, -40.5), (1550.78, -38.6), (1551.04, -36.7), (1551.25, -40.5)],
    [(1552.2, -40.5), (1552.35, -34.8), (1552.7, -35.2), (1553.04, -36.3), (1553.57, -37.9), (1554.1, -38.6), (1554.5, -40.5)],
]

# ---------------- STYLE ----------------
FONT = "Arial, Liberation Sans, sans-serif"
TXT = "#222222"
BLUE = "#1c1cf2"
BLACK = "#151515"
RED = "#ff1a1a"
MAG = "#ff20ff"
ORANGE = "#ff8a1f"
NAVY = "#0b0b80"
DOT = "3px,3px"
DASH = "6px,4px"

W, H = 786, 1304
px_x = [(90, 758), (89, 755), (89, 753), (89, 759)]
px_y = [(16, 276), (336, 593), (651, 907), (966, 1225)]
LEG_FS = 14.4   # sets legend row pitch
LEG_TXT = 17    # displayed legend text size


def flat(segs):
    xs, ys = [], []
    for s in segs:
        for (x, y) in s:
            xs.append(x)
            ys.append(y)
        xs.append(None)
        ys.append(None)
    return xs, ys


fig = go.Figure()


def add(segs, name, k, color, width, dash="solid"):
    xs, ys = flat(segs)
    sfx = "" if k == 0 else str(k + 1)
    fig.add_trace(go.Scatter(
        x=xs, y=ys, mode="lines",
        name='<span style="font-size:%dpx">%s</span>' % (LEG_TXT, name),
        line=dict(color=color, width=width, dash=dash, shape="spline", smoothing=0.6),
        xaxis="x" + sfx, yaxis="y" + sfx, legend="legend" + sfx,
        hoverinfo="skip"))


add(a_20C, temps_a[0], 0, BLUE, 2.2)
add(a_50C, temps_a[1], 0, BLACK, 2.2, DASH)

bc_styles = [(BLACK, 2, "solid"), (RED, 3, DOT), (BLUE, 2, "solid"),
             (MAG, 3, DOT), (ORANGE, 2, "solid"), (NAVY, 3.2, "solid")]
for segs, name, st in zip([b_20C, b_25C, b_30C, b_35C, b_40C, b_45C], temps_bc, bc_styles):
    add(segs, name, 1, *st)
for segs, name, st in zip([c_20C, c_25C, c_30C, c_35C, c_40C, c_45C], temps_bc, bc_styles):
    add(segs, name, 2, *st)

d_styles = [(BLUE, 2.2, "solid"), (BLACK, 2.4, DASH), (RED, 2.2, "solid"), (ORANGE, 2.2, "solid")]
for segs, name, st in zip([d_14mA, d_16mA, d_18mA, d_20mA], currents_d, d_styles):
    add(segs, name, 3, *st)

layout = dict(width=W, height=H, margin=dict(l=0, r=0, t=0, b=0, autoexpand=False),
              paper_bgcolor="white", plot_bgcolor="white", template="none",
              font=dict(family=FONT, color=TXT), showlegend=True)

axis_common = dict(showline=True, linecolor="#333333", linewidth=1.6, showgrid=False,
                   zeroline=False, ticks="outside", tickcolor="#333333", tickwidth=1.4,
                   automargin=False, tickfont=dict(family=FONT, size=21, color=TXT))
legend_rows = [(642, 65), (645, 347), (652, 658), (608, 965)]
annotations = []


def ann(text, px, py, size, family=FONT, angle=0):
    annotations.append(dict(text=text, x=px / W, y=1 - py / H, xref="paper", yref="paper",
                            xanchor="center", yanchor="middle", textangle=angle, showarrow=False,
                            font=dict(family=family, size=size, color=TXT)))


for k in range(4):
    sfx = "" if k == 0 else str(k + 1)
    (x0, x1), (y0, y1) = px_x[k], px_y[k]
    layout["xaxis" + sfx] = dict(axis_common, domain=[x0 / W, x1 / W], range=[1530, 1565],
                                 anchor="y" + sfx, tickvals=x_ticks, ticklen=6,
                                 minor=dict(dtick=1, tick0=1530, ticklen=4, ticks="outside",
                                            tickcolor="#333333", tickwidth=1.2))
    layout["yaxis" + sfx] = dict(axis_common, domain=[1 - y1 / H, 1 - y0 / H], range=[-40, -10],
                                 anchor="x" + sfx, tickvals=y_ticks, ticktext=y_ticktext, ticklen=6,
                                 minor=dict(dtick=5, tick0=-40, ticklen=4, ticks="outside",
                                            tickcolor="#333333", tickwidth=1.2))
    lx, ly = legend_rows[k]
    layout["legend" + sfx] = dict(x=lx / W, y=1 - (ly - 15) / H, xanchor="left", yanchor="top",
                                  bgcolor="rgba(0,0,0,0)", borderwidth=0, itemwidth=40,
                                  tracegroupgap=0, font=dict(family=FONT, size=LEG_FS, color=TXT))
    ann(panel_titles[k], [403, 388, 407, 382][k], [17, 345, 660, 970][k], 20)
    ann(panel_labels[k], [129, 128, 125, 122][k], [52, 363, 683, 992][k], 30, "Open Sans, sans-serif")
    ann("Power (dBm)", 26, (y0 + y1) / 2 + 8, 22, angle=-90)
ann("Wavelength (nm)", 424, 1286, 23)
layout["annotations"] = annotations
fig.update_layout(**layout)
fig.write_html("out.html", config={"displayModeBar": False},
               post_script="document.body.style.margin='0px';document.body.style.overflow='hidden';")
